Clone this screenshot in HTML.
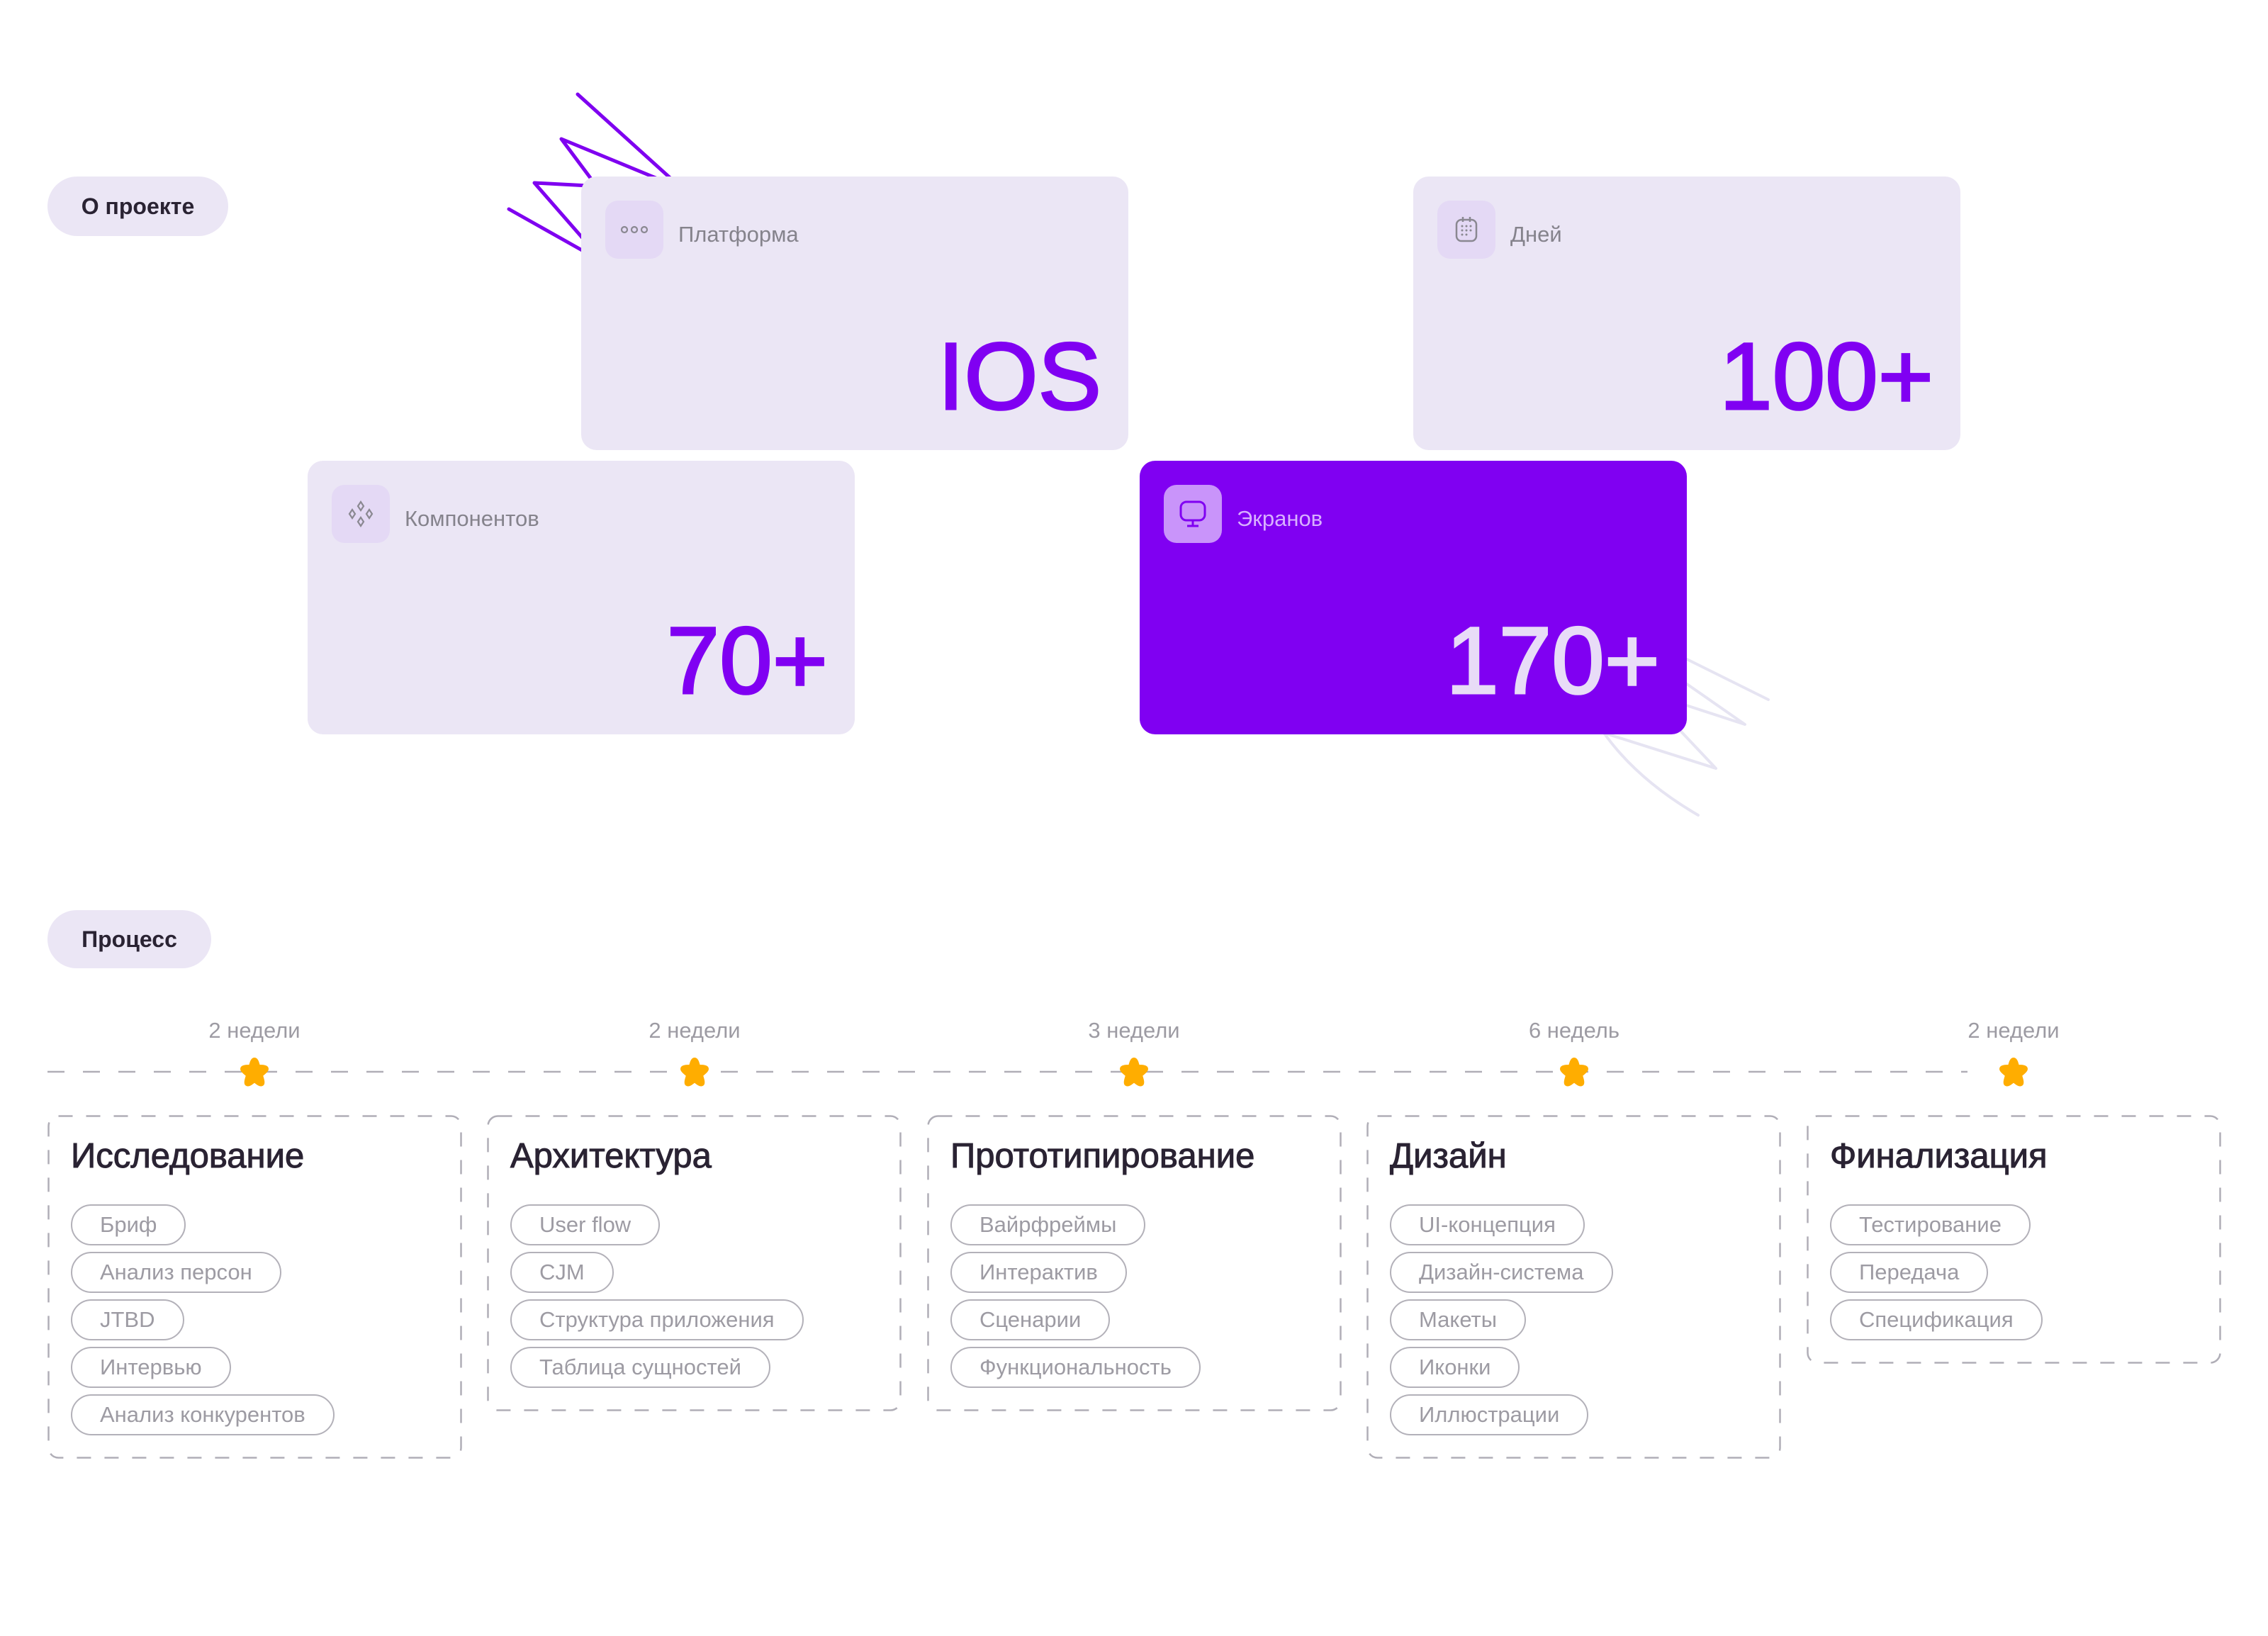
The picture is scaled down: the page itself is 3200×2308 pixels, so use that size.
<!DOCTYPE html>
<html><head><meta charset="utf-8"><style>
*{margin:0;padding:0;box-sizing:border-box}
body{width:3200px;height:2308px;background:#fff;position:relative;overflow:hidden;font-family:"Liberation Sans","Noto Sans CJK SC",sans-serif}
.abs{position:absolute}
.pill{position:absolute;background:#ebe6f5;border-radius:42px;color:#2a2333;font-weight:bold;font-size:32px;display:flex;align-items:center;justify-content:center}
.card{position:absolute;width:772px;height:386px;background:#ebe6f5;border-radius:22px}
.ib{position:absolute;left:34px;top:34px;width:82px;height:82px;border-radius:18px;background:#e4d9f5;display:flex;align-items:center;justify-content:center}
.lab{position:absolute;left:137px;top:64px;font-size:31px;color:#85838c}
.num{position:absolute;right:38px;bottom:36px;font-size:134px;color:#8000f2;line-height:1;letter-spacing:0;-webkit-text-stroke:3px currentColor}
.wk{position:absolute;top:1436px;width:300px;text-align:center;font-size:31px;color:#9d9ba3}
.star{position:absolute;top:1491px;width:42px;height:42px}
.box{position:absolute;top:1573px;width:585px}
.box svg.b{position:absolute;left:0;top:0}
.box h2{position:absolute;left:33px;top:30px;font-size:49px;font-weight:normal;color:#2a2333;white-space:nowrap;-webkit-text-stroke:1px #2a2333}
.tags{position:absolute;left:33px;top:126px}
.tag{height:58px;margin-bottom:9px;border:2.5px solid #b3b1b9;border-radius:29px;padding:0 39px;font-size:31px;color:#9d9ba3;display:table;line-height:53px;white-space:nowrap}
</style></head><body>
<svg class="abs" style="left:0;top:0" width="3200" height="2308">
<g fill="none" stroke="#7f00f0" stroke-width="5" stroke-linecap="round" stroke-linejoin="round">
<path d="M815 133 L950 255"/>
<path d="M935 255 L792 196 L836 255"/>
<path d="M830 262 L754 258 L830 345"/>
<path d="M718 295 L830 358"/>
</g>
<g fill="none" stroke="#e6e4f2" stroke-width="4" stroke-linecap="round" stroke-linejoin="round">
<path d="M2370 925 L2495 987"/>
<path d="M2370 958 L2462 1022 L2370 992"/>
<path d="M2370 1030 L2421 1084 L2263 1034 Q2310 1100 2396 1150"/>
</g>
</svg>
<div class="pill" style="left:67px;top:249px;width:255px;height:84px">О проекте</div>
<div class="pill" style="left:67px;top:1284px;width:231px;height:82px">Процесс</div>

<div class="card" style="left:820px;top:249px">
<div class="ib"><svg width="40" height="14"><g fill="none" stroke="#8a8891" stroke-width="2.2"><circle cx="6" cy="7" r="4"/><circle cx="20" cy="7" r="4"/><circle cx="34" cy="7" r="4"/></g></svg></div>
<div class="lab">Платформа</div><div class="num">IOS</div></div>

<div class="card" style="left:1994px;top:249px">
<div class="ib"><svg width="34" height="40"><g fill="none" stroke="#8a8891" stroke-width="2.5"><rect x="3" y="6" width="28" height="30" rx="7"/><line x1="12" y1="2" x2="12" y2="9"/><line x1="22" y1="2" x2="22" y2="9"/></g><g fill="#8a8891"><circle cx="11" cy="15" r="1.5"/><circle cx="17" cy="15" r="1.5"/><circle cx="23" cy="15" r="1.5"/><circle cx="11" cy="21" r="1.5"/><circle cx="17" cy="21" r="1.5"/><circle cx="23" cy="21" r="1.5"/><circle cx="11" cy="27" r="1.5"/><circle cx="17" cy="27" r="1.5"/></g></svg></div>
<div class="lab">Дней</div><div class="num">100+</div></div>

<div class="card" style="left:434px;top:650px">
<div class="ib"><svg width="40" height="40"><g fill="none" stroke="#8a8891" stroke-width="2.2"><path d="M20 3l4 6-4 6-4-6z"/><path d="M20 25l4 6-4 6-4-6z"/><path d="M8 14l4 6-4 6-4-6z"/><path d="M32 14l4 6-4 6-4-6z"/></g></svg></div>
<div class="lab">Компонентов</div><div class="num">70+</div></div>

<div class="card" style="left:1608px;top:650px;background:#8000f2">
<div class="ib" style="background:#c994fa"><svg width="44" height="44"><g fill="none" stroke="#8000f2" stroke-width="3"><rect x="5" y="5" width="34" height="26" rx="8"/><line x1="22" y1="31" x2="22" y2="39"/><line x1="14" y1="39" x2="30" y2="39"/></g></svg></div>
<div class="lab" style="color:#d8b0ff">Экранов</div><div class="num" style="color:#e8dcf7">170+</div></div>

<svg class="abs" style="left:0;top:1500px" width="3200" height="24"><line x1="67" y1="12" x2="2776" y2="12" stroke="#b0aeb7" stroke-width="2.5" stroke-dasharray="24 26"/></svg>

<div class="wk" style="left:209px">2 недели</div>
<div class="wk" style="left:830px">2 недели</div>
<div class="wk" style="left:1450px">3 недели</div>
<div class="wk" style="left:2071px">6 недель</div>
<div class="wk" style="left:2691px">2 недели</div>

<svg width="0" height="0" style="position:absolute"><defs><path id="st" d="M21 3 C25 3 26 10 27 13 C31 13 39 13 39 17 C39 20 33 24 31 26 C32 30 35 37 32 39 C29 41 23 36 21 34 C19 36 13 41 10 39 C7 37 10 30 11 26 C9 24 3 20 3 17 C3 13 11 13 15 13 C16 10 17 3 21 3Z" fill="#ffad00" stroke="#ffad00" stroke-width="4" stroke-linejoin="round"/></defs></svg>
<svg class="star" style="left:338px" viewBox="0 0 42 42"><use href="#st"/></svg>
<svg class="star" style="left:959px" viewBox="0 0 42 42"><use href="#st"/></svg>
<svg class="star" style="left:1579px" viewBox="0 0 42 42"><use href="#st"/></svg>
<svg class="star" style="left:2200px" viewBox="0 0 42 42"><use href="#st"/></svg>
<svg class="star" style="left:2820px" viewBox="0 0 42 42"><use href="#st"/></svg>

<div class="box" style="left:67px;height:485px"><svg class="b" width="585" height="485"><rect x="1.5" y="1.5" width="582" height="482" rx="14" fill="none" stroke="#b0aeb7" stroke-width="2.5" stroke-dasharray="20 19"/></svg><h2>Исследование</h2><div class="tags">
<div class="tag">Бриф</div><div class="tag">Анализ персон</div><div class="tag">JTBD</div><div class="tag">Интервью</div><div class="tag">Анализ конкурентов</div></div></div>
<div class="box" style="left:687px;height:418px"><svg class="b" width="585" height="418"><rect x="1.5" y="1.5" width="582" height="415" rx="14" fill="none" stroke="#b0aeb7" stroke-width="2.5" stroke-dasharray="20 19"/></svg><h2>Архитектура</h2><div class="tags">
<div class="tag">User flow</div><div class="tag">CJM</div><div class="tag">Структура приложения</div><div class="tag">Таблица сущностей</div></div></div>
<div class="box" style="left:1308px;height:418px"><svg class="b" width="585" height="418"><rect x="1.5" y="1.5" width="582" height="415" rx="14" fill="none" stroke="#b0aeb7" stroke-width="2.5" stroke-dasharray="20 19"/></svg><h2>Прототипирование</h2><div class="tags">
<div class="tag">Вайрфреймы</div><div class="tag">Интерактив</div><div class="tag">Сценарии</div><div class="tag">Функциональность</div></div></div>
<div class="box" style="left:1928px;height:485px"><svg class="b" width="585" height="485"><rect x="1.5" y="1.5" width="582" height="482" rx="14" fill="none" stroke="#b0aeb7" stroke-width="2.5" stroke-dasharray="20 19"/></svg><h2>Дизайн</h2><div class="tags">
<div class="tag">UI-концепция</div><div class="tag">Дизайн-система</div><div class="tag">Макеты</div><div class="tag">Иконки</div><div class="tag">Иллюстрации</div></div></div>
<div class="box" style="left:2549px;height:351px"><svg class="b" width="585" height="351"><rect x="1.5" y="1.5" width="582" height="348" rx="14" fill="none" stroke="#b0aeb7" stroke-width="2.5" stroke-dasharray="20 19"/></svg><h2>Финализация</h2><div class="tags">
<div class="tag">Тестирование</div><div class="tag">Передача</div><div class="tag">Спецификация</div></div></div>
</body></html>
